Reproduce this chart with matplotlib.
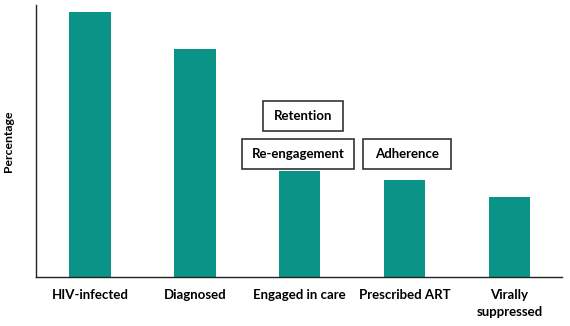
import matplotlib.pyplot as plt
from matplotlib.patches import Rectangle

# cascade stages and (estimated) percentages
stages = ["HIV-infected", "Diagnosed", "Engaged in care", "Prescribed ART", "Virally\nsuppressed"]
values = [100, 85.8, 39.8, 36.6, 30.0]
box_labels = ["Retention", "Re-engagement", "Adherence"]

teal = "#0a9488"
plt.rcParams['font.family'] = ['Lato', 'DejaVu Sans']

fig = plt.figure(figsize=(5.70, 3.26), dpi=100)
ax = fig.add_axes([36/570, (326-276.7)/326, (562-36)/570, (276.7-5)/326])

x = range(len(stages))
ax.bar(x, values, width=0.395, color=teal)
ax.set_xlim(-0.514, 4.5)
ax.set_ylim(0, 102.6)

ax.spines['top'].set_visible(False)
ax.spines['right'].set_visible(False)
for s in ['left', 'bottom']:
    ax.spines[s].set_linewidth(1.0)
    ax.spines[s].set_color('#222222')

ax.set_yticks([])
ax.set_xticks(list(x))
ax.set_xticklabels(stages, fontsize=9.5, fontweight='bold', linespacing=1.55)
ax.tick_params(axis='x', length=0, pad=8.5)
ax.set_ylabel("Percentage", fontsize=8.8, fontweight='bold', labelpad=16)

# boxes in figure pixel coords (x0, x1, y0, y1 from top)
boxes = [(263.3, 343.3, 100.7, 130.7), (241.7, 354.3, 139, 169), (363.3, 451, 139, 169)]
for lab, (x0, x1, y0, y1) in zip(box_labels, boxes):
    r = Rectangle((x0/570, 1 - y1/326), (x1-x0)/570, (y1-y0)/326,
                  transform=fig.transFigure, facecolor='white', edgecolor='#333333', linewidth=1.2)
    fig.patches.append(r)
    fig.text((x0+x1)/2/570, 1 - (y0+y1)/2/326, lab, ha='center', va='center',
             fontsize=9.5, fontweight='bold')

fig.savefig("out.png", dpi=100)
